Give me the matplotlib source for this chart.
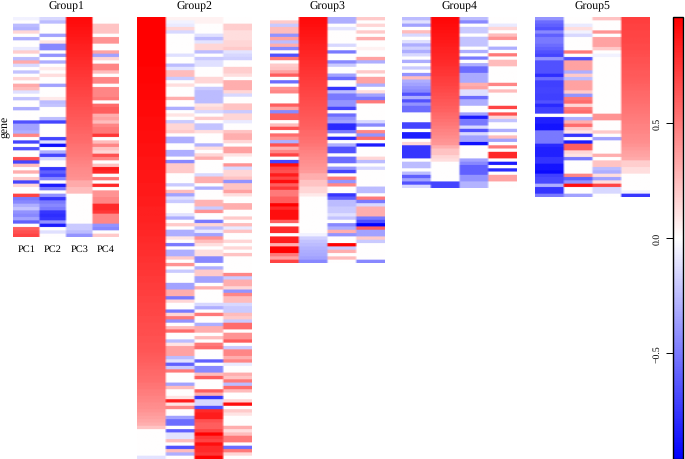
import numpy as np
import matplotlib
matplotlib.use("Agg")
import matplotlib.pyplot as plt
from matplotlib.colors import LinearSegmentedColormap, Normalize
from matplotlib.cm import ScalarMappable

plt.rcParams['font.family'] = ['Liberation Serif', 'DejaVu Serif']
plt.rcParams['text.hinting'] = 'none'

group_names = ["Group1", "Group2", "Group3", "Group4", "Group5"]
pc_labels = ["PC1", "PC2", "PC3", "PC4"]
tick_values = [-0.5, 0.0, 0.5]
limit = 0.96

# values are in hundredths
g1_pc1 = [-5,0,-25,-28,15,0,-30,0,0,-8,18,0,-25,32,-15,0,-22,0,15,0,32,25,-12,0,-22,0,0,-30,0,0,0,-65,-35,-35,-30,45,0,-70,0,-65,0,0,65,-70,25,0,30,0,20,-70,15,0,0,70,-50,-45,-30,-22,-40,-45,-35,-60,0,60,65,70]
g1_pc2 = [-15,-25,0,0,0,-35,0,10,-45,-45,0,-40,0,-30,0,8,0,12,0,0,-35,0,0,0,8,-25,-22,0,0,0,-25,-70,0,0,0,0,-70,-12,-90,0,-30,-70,-15,0,0,-75,-60,-70,-45,0,-85,-50,0,-40,-75,-50,-45,-50,-75,-78,-75,-40,-85,0,-12,0]
g1_pc3 = [92,91,90,89,88,87,86,85,84,83,82,81,80,79,78,77,76,75,74,73,72,71,70,69,68,67,66,65,64,63,62,61,60,59,58,57,56,55,53,52,51,50,48,47,45,44,43,42,41,32,32,25,25,0,0,0,0,0,0,0,0,0,-20,-20,-25,-40]
g1_pc4 = [0,0,22,22,22,0,40,40,0,0,35,-35,15,0,45,45,25,0,45,45,0,45,45,45,50,0,55,60,60,30,35,25,45,50,50,75,0,25,45,22,15,65,45,0,22,85,80,0,50,0,80,0,40,40,45,45,80,80,75,45,45,45,-40,-45,0,20]

g2_pc1 = [96,96,96,96,96,96,96,96,96,96,95,95,95,95,95,94,94,94,94,94,93,93,93,93,93,92,92,92,92,92,91,91,91,91,90,90,90,90,89,89,89,89,88,88,88,88,87,87,87,87,86,86,86,86,85,85,85,84,84,84,83,83,82,82,81,81,80,80,79,79,78,78,77,77,76,76,75,75,74,74,73,73,72,72,71,71,70,70,69,69,68,68,67,67,66,66,65,65,64,64,63,62,61,60,59,58,57,56,55,54,52,51,49,48,46,45,43,42,40,38,36,33,30,22,0,0,0,0,0,0,0,0,-10]
g2_pc2 = [5,-5,-8,15,-15,0,0,0,0,0,0,-12,0,0,-25,-10,25,25,-20,0,12,0,0,0,30,0,0,-30,0,10,0,-20,15,15,20,0,-30,-30,0,0,-30,-30,0,-45,20,20,20,0,0,0,-20,0,25,-35,-12,-20,0,0,0,-10,-30,0,20,0,-30,-30,10,0,-50,0,-30,-30,20,0,40,0,-20,0,0,0,-35,-35,30,30,-50,15,0,0,-50,15,50,-40,0,25,55,0,0,-25,10,35,35,35,-25,-10,-60,-20,50,0,0,0,-35,25,0,0,10,85,10,45,0,0,-35,-55,-55,0,-60,-10,-10,25,0,-65,25,-30,0]
g2_pc3 = [5,5,0,0,0,-12,-25,-10,15,15,-25,0,-20,-12,-12,0,0,0,15,15,0,-20,-25,-25,-25,-25,10,15,-15,0,20,0,-22,-22,12,0,0,0,-28,12,0,15,30,0,0,0,0,-15,30,30,0,-30,0,0,0,28,28,-20,40,0,0,-50,15,-25,-8,-35,40,25,12,0,12,12,-45,-45,0,-30,20,20,-35,-35,0,30,0,0,0,0,-15,-30,0,50,0,0,-30,30,30,0,25,0,50,55,0,0,0,-60,0,-45,-45,25,60,0,0,0,60,30,-75,-15,-15,-65,80,85,85,65,60,60,70,95,75,70,90,80,80,75,95]
g2_pc4 = [0,0,18,18,12,12,12,15,15,20,-10,-15,-18,0,0,18,18,12,0,30,30,30,15,-15,0,0,22,22,-20,15,15,-8,0,0,22,30,30,15,0,35,35,10,0,0,40,-15,15,15,22,-40,22,22,35,12,0,0,30,30,0,0,20,0,25,-8,22,0,0,15,0,15,0,22,0,0,0,0,0,45,-20,30,30,15,-40,45,25,25,-15,-20,-20,25,20,-20,55,55,0,40,40,60,0,-20,45,45,30,45,-8,0,0,30,22,50,-25,55,25,0,0,15,90,0,20,10,0,0,0,30,12,25,50,50,0,-55,50,15,0]

g3_pc1 = [0,20,-20,25,25,-40,35,-25,30,-45,0,-65,50,0,20,22,35,60,0,-55,0,40,45,0,0,0,60,35,-45,60,60,0,25,65,0,55,40,-30,65,30,45,70,0,-70,90,70,65,85,70,90,60,75,50,50,60,60,95,80,90,90,90,60,0,80,80,0,85,85,30,95,95,50,35,70]
g3_pc2 = [92,91,90,89,88,87,86,85,84,83,82,81,80,79,78,77,76,75,74,73,72,71,70,69,68,67,66,65,64,63,62,61,60,59,57,56,54,53,51,49,47,45,44,42,41,39,38,30,30,22,22,15,15,8,0,0,0,0,0,0,0,0,0,0,0,-5,-18,-22,-25,-28,-30,-32,-35,-45]
g3_pc3 = [-30,-30,0,-10,0,0,0,0,-15,0,-50,0,0,-45,-20,0,0,-35,-55,0,0,-75,-25,-50,-50,-40,-40,-70,0,-55,-40,-35,-80,-80,-50,0,-80,0,-30,-65,-65,0,-55,-55,0,-40,-70,0,50,-40,45,0,0,-75,-60,-25,-25,-20,-20,-12,-22,0,-45,-30,30,-40,0,0,95,-20,30,0,25,0]
g3_pc4 = [20,0,15,0,20,0,30,0,0,5,0,0,35,-30,0,0,20,0,35,35,-30,0,12,-35,-50,50,0,0,0,0,0,-15,-45,0,45,-40,55,0,-85,0,0,0,15,-25,0,-15,0,0,0,0,0,-25,-25,0,50,-50,-15,30,30,30,-50,-65,-95,60,-35,-35,20,-20,0,0,0,0,0,-45]

g4_pc1 = [-25,-12,-35,0,25,-15,0,-12,-30,-18,-30,-15,0,-30,0,-20,0,-40,25,-30,-35,-40,-45,-65,-30,-65,-40,-55,-55,0,0,0,-70,-70,0,-85,-85,0,15,-75,-75,-75,-75,0,-25,-25,0,-25,-60,-35,-65,-15]
g4_pc2 = [93,92,91,90,89,88,87,86,85,84,83,82,81,80,79,77,76,75,73,72,71,69,68,66,65,63,62,60,59,57,55,53,51,49,47,45,43,41,39,30,22,22,15,12,0,0,0,0,0,0,-70,-70]
g4_pc3 = [-25,-45,0,-20,-20,0,-22,-22,-22,0,-30,0,-50,0,-30,-55,-55,-32,-32,-32,30,35,-12,-12,-55,-30,-30,0,0,-35,-85,-50,-50,-15,-65,-15,-35,-35,-90,0,0,0,0,-35,-45,-60,-60,-60,-40,-40,-28,-28]
g4_pc4 = [0,0,-8,15,0,25,40,0,0,-30,0,50,0,25,25,0,0,0,0,0,45,0,25,0,0,0,0,70,0,65,15,-22,0,0,-30,0,25,-35,0,50,0,80,80,0,-85,0,-80,0,35,35,0,0]

g5_pc1 = [-40,-55,-60,-65,-45,-60,-50,-50,-55,-60,-65,-70,-40,-65,-65,-65,-65,-78,-55,-72,-72,-70,-70,-72,-72,-65,-80,-72,-72,0,-84,-84,-88,-88,-50,-50,-50,-50,-80,-84,-84,-84,-76,-76,-88,-88,-92,-72,-68,-68,-30,-76,-76,-50]
g5_pc2 = [0,0,-8,12,-5,-15,0,0,0,0,50,0,-65,35,35,35,-30,20,-25,35,35,35,20,-40,50,55,15,50,55,0,-30,30,55,20,10,-75,0,-85,60,60,15,10,-50,0,0,0,0,45,-60,-40,90,0,0,-35]
g5_pc3 = [22,0,0,0,40,0,35,35,35,20,0,-5,0,0,0,0,0,0,0,0,0,0,0,0,0,0,0,0,0,40,40,0,0,0,20,0,-35,0,0,0,0,30,0,22,22,-25,-30,12,-35,12,70,-15,-15,0]
g5_pc4 = [72,72,71,71,70,70,69,69,68,68,67,66,65,65,64,63,62,62,61,60,59,58,57,56,55,54,53,52,51,50,49,48,47,46,45,44,43,42,40,38,36,34,32,18,18,12,12,0,0,0,0,0,-5,-75]

groups = [
    [g1_pc1, g1_pc2, g1_pc3, g1_pc4],
    [g2_pc1, g2_pc2, g2_pc3, g2_pc4],
    [g3_pc1, g3_pc2, g3_pc3, g3_pc4],
    [g4_pc1, g4_pc2, g4_pc3, g4_pc4],
    [g5_pc1, g5_pc2, g5_pc3, g5_pc4],
]

W, H = 685, 460
fig = plt.figure(figsize=(W / 100, H / 100), dpi=100)
cmap = LinearSegmentedColormap.from_list("bwr2", ["#0000ff", "#ffffff", "#ff0000"], N=256)
norm = Normalize(-limit, limit)

def px_axes(x0, y0, x1, y1):
    return fig.add_axes([x0 / W, 1 - y1 / H, (x1 - x0) / W, (y1 - y0) / H])

lefts = [13, 137, 270, 402, 535]
rights = [119, 252, 384, 517, 650]
bottoms = [238, 460, 264, 188.7, 198]
top = 18

for i, cols in enumerate(groups):
    for c in cols:
        assert len(c) == len(cols[0]), (i, [len(k) for k in cols])
    data = np.array(cols, dtype=float).T / 100
    # finer cells with bilinear resampling give the soft cell edges of the reference
    fine = np.repeat(np.repeat(data, 3, axis=0), 12, axis=1)
    ax = px_axes(lefts[i], top, rights[i], bottoms[i])
    ax.imshow(fine, cmap=cmap, norm=norm, aspect='auto', interpolation='bilinear')
    ax.axis('off')
    fig.text((lefts[i] + rights[i]) / 2 / W, 1 - 7 / H, group_names[i],
             ha='center', va='center', fontsize=8.5)
    if i == 0:
        for j, lab in enumerate(pc_labels):
            fig.text((lefts[i] + (j + 0.5) * (rights[i] - lefts[i]) / 4) / W, 1 - 250 / H,
                     lab, ha='center', va='center', fontsize=7.5)

fig.text(4.5 / W, 1 - 127 / H, "gene", rotation=90, ha='center', va='center', fontsize=8.5)

cax = px_axes(673, 18, 683, 460)
cb = fig.colorbar(ScalarMappable(norm=norm, cmap=cmap), cax=cax, orientation='vertical')
cb.set_ticks(tick_values)
cb.ax.yaxis.set_ticks_position('left')
cb.ax.tick_params(length=5, width=0.7, labelsize=7, pad=3)
cb.ax.set_yticklabels(["\u22120.5", "0.0", "0.5"], rotation=90, va='center')
cb.outline.set_linewidth(1.0)

fig.savefig("out.png", dpi=100)
